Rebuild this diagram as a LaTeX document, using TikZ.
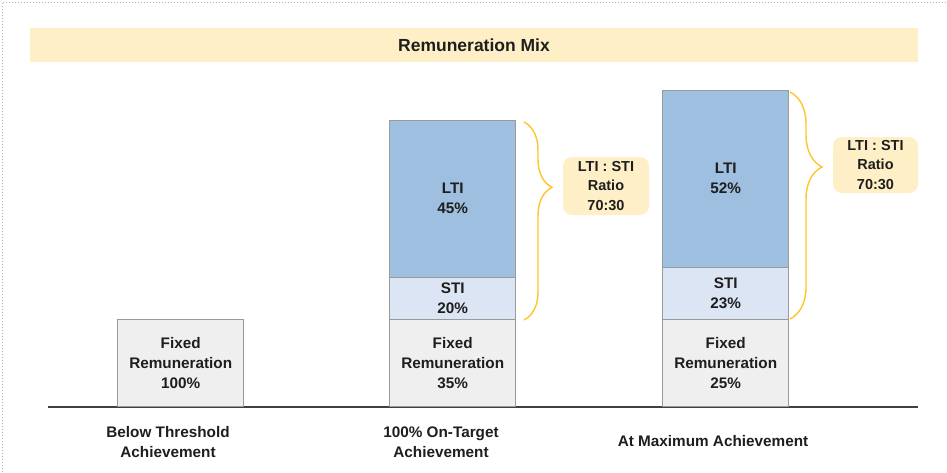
\documentclass[tikz,border=0pt]{standalone}
\usepackage{fontspec}
\setmainfont{Liberation Sans}
\usetikzlibrary{decorations.pathreplacing}
\definecolor{banner}{HTML}{FFEFC6}
\definecolor{ltic}{HTML}{9FBFE1}
\definecolor{stic}{HTML}{DCE5F3}
\definecolor{fixc}{HTML}{EFEFEF}
\definecolor{edgec}{HTML}{9A9A9A}
\definecolor{bracec}{HTML}{FFC629}
\definecolor{txt}{HTML}{1E1E1E}
\tikzset{
  bar/.style={draw=edgec, line width=1.4pt, minimum width=126pt, anchor=south west, inner sep=0pt,
    text=txt, align=center, font=\fontsize{15.3}{20}\selectfont\bfseries},
  ratio/.style={fill=banner, rounded corners=9pt, minimum width=86pt, minimum height=58pt,
    text=txt, align=center, font=\fontsize{14.5}{19.5}\selectfont\bfseries, inner sep=0pt},
  bracestyle/.style={draw=bracec, line width=1.4pt, decorate,
    decoration={brace, amplitude=28pt, aspect=0.33}},
  axislabel/.style={text=txt, align=center, font=\fontsize{15.3}{20}\selectfont\bfseries}
}
\begin{document}
\begin{tikzpicture}[x=1pt, y=-1pt]
\useasboundingbox (0,0) rectangle (947,472);
\fill[white] (0,0) rectangle (947,472);
% screenshot border
\draw[gray!60, dotted, line width=1pt] (2,472) -- (2,2) -- (947,2);
% banner
\node[fill=banner, minimum width=888pt, minimum height=34pt, inner sep=0pt,
  font=\fontsize{17.5}{20}\selectfont\bfseries, text=txt] (title) at (474,45) {Remuneration Mix};
% baseline
\coordinate (axL) at (48,407);
\coordinate (axR) at (918,407);
\draw[black!75, line width=1.4pt] (axL) -- (axR);
% bar 1
\node[bar, fill=fixc, minimum height=87pt] (f1) at (117,407) {Fixed\\Remuneration\\100\%};
% bar 2
\node[bar, fill=fixc, minimum height=87pt] (f2) at (389,407) {Fixed\\Remuneration\\35\%};
\node[bar, fill=stic, minimum height=42pt] (s2) at (389,320) {STI\\20\%};
\node[bar, fill=ltic, minimum height=157pt] (l2) at (389,278) {LTI\\45\%};
% bar 3
\node[bar, fill=fixc, minimum height=87pt] (f3) at (662,407) {Fixed\\Remuneration\\25\%};
\node[bar, fill=stic, minimum height=52pt] (s3) at (662,320) {STI\\23\%};
\node[bar, fill=ltic, minimum height=177pt] (l3) at (662,268) {LTI\\52\%};
% braces
\coordinate (b2t) at (524,122);
\coordinate (b2b) at (524,320);
\draw[bracestyle] (b2t) -- (b2b);
\coordinate (b3t) at (790,92);
\coordinate (b3b) at (790,319);
\draw[bracestyle, decoration={amplitude=32pt}] (b3t) -- (b3b);
% ratio labels
\node[ratio] (r2) at (606,186) {LTI : STI\\Ratio\\70:30};
\node[ratio, minimum width=85pt, minimum height=56pt] (r3) at (875.5,165) {LTI : STI\\Ratio\\70:30};
% axis labels
\node[axislabel] (c1) at (168,442) {Below Threshold\\Achievement};
\node[axislabel] (c2) at (441,442) {100\% On-Target\\Achievement};
\node[axislabel] (c3) at (713,441) {At Maximum Achievement};
\end{tikzpicture}
\end{document}
